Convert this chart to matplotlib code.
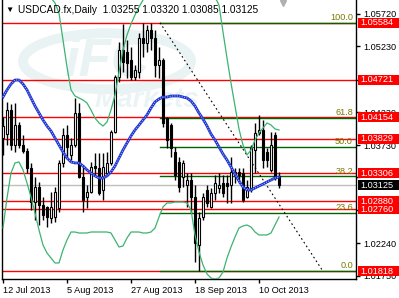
import numpy as np
import matplotlib
matplotlib.use("Agg")
import matplotlib.pyplot as plt
from matplotlib.patches import Rectangle, Ellipse
from matplotlib.transforms import blended_transform_factory

plt.rcParams['font.family'] = ['Liberation Sans', 'DejaVu Sans']

# ---------------- data ----------------
opens = [1.03837, 1.03898, 1.04262, 1.03732, 1.04035, 1.03732, 1.03640, 1.03383, 1.02868, 1.03095,
         1.02822, 1.02792, 1.02625, 1.02641, 1.02777, 1.03459, 1.03883, 1.03580, 1.03732, 1.04216,
         1.03247, 1.02944, 1.03019, 1.03413, 1.03383, 1.03050, 1.03307, 1.03459, 1.03928, 1.04761,
         1.05171, 1.05140, 1.05019, 1.04761, 1.04837, 1.05352, 1.05277, 1.05474, 1.05352, 1.04943,
         1.05019, 1.04140, 1.04035, 1.03625, 1.03474, 1.03247, 1.03125, 1.03201, 1.02944, 1.02216,
         1.02641, 1.03050, 1.02792, 1.03004, 1.03080, 1.03155, 1.03155, 1.03125, 1.03322, 1.03322,
         1.03307, 1.02944, 1.03080, 1.03656, 1.03913, 1.03959, 1.03625, 1.03353, 1.03883, 1.03255]
highs = [1.04155, 1.04383, 1.04352, 1.04368, 1.04080, 1.03883, 1.03686, 1.03459, 1.03247, 1.03171,
         1.02944, 1.02807, 1.03019, 1.03095, 1.03504, 1.03989, 1.04035, 1.03837, 1.04443, 1.04368,
         1.03428, 1.03125, 1.03474, 1.03610, 1.03610, 1.03610, 1.03625, 1.03959, 1.04792, 1.05292,
         1.05570, 1.05322, 1.05216, 1.04943, 1.05428, 1.05580, 1.05549, 1.05584, 1.05474, 1.05216,
         1.05049, 1.04155, 1.04065, 1.03701, 1.03550, 1.03504, 1.03307, 1.03307, 1.03125, 1.02716,
         1.03004, 1.03125, 1.03080, 1.03277, 1.03307, 1.03277, 1.03277, 1.03550, 1.03383, 1.03383,
         1.03383, 1.03201, 1.03732, 1.04065, 1.04186, 1.04110, 1.03686, 1.03928, 1.03928, 1.03320]
lows = [1.03580, 1.03732, 1.03656, 1.03625, 1.03686, 1.03610, 1.03307, 1.02747, 1.02595, 1.02519,
        1.02595, 1.02489, 1.02550, 1.02565, 1.02716, 1.03398, 1.03550, 1.03504, 1.03701, 1.03231,
        1.02716, 1.02777, 1.03004, 1.03277, 1.02974, 1.02898, 1.03277, 1.03428, 1.03913, 1.04686,
        1.04838, 1.04746, 1.04716, 1.04716, 1.04746, 1.05064, 1.05140, 1.05171, 1.04761, 1.04746,
        1.04004, 1.03686, 1.03550, 1.03201, 1.03019, 1.03095, 1.02792, 1.02701, 1.01959, 1.01818,
        1.02595, 1.02792, 1.02777, 1.02898, 1.03004, 1.02944, 1.02853, 1.02853, 1.03155, 1.03155,
        1.02868, 1.02928, 1.03019, 1.03307, 1.03883, 1.03383, 1.03398, 1.03322, 1.03201, 1.03085]
closes = [1.04019, 1.04262, 1.03732, 1.04035, 1.03732, 1.03640, 1.03383, 1.02868, 1.03095, 1.02822,
          1.02671, 1.02641, 1.02792, 1.03019, 1.03459, 1.03883, 1.03701, 1.03732, 1.04216, 1.03247,
          1.02898, 1.03019, 1.03398, 1.03383, 1.03004, 1.03398, 1.03459, 1.03928, 1.04761, 1.05171,
          1.04989, 1.04974, 1.04761, 1.04868, 1.05352, 1.05277, 1.05474, 1.05352, 1.04943, 1.05019,
          1.04065, 1.03807, 1.03686, 1.03277, 1.03095, 1.03459, 1.03201, 1.02944, 1.02247, 1.02625,
          1.02944, 1.02853, 1.03004, 1.03155, 1.03125, 1.03004, 1.03110, 1.03322, 1.03277, 1.03277,
          1.02898, 1.03095, 1.03686, 1.03913, 1.03959, 1.03504, 1.03504, 1.03732, 1.03231, 1.03125]

ma = [1.04458, 1.04565, 1.04655, 1.04716, 1.04716, 1.04655, 1.04565, 1.04443, 1.04322, 1.04216,
      1.04110, 1.04019, 1.03943, 1.03837, 1.03731, 1.03625, 1.03534, 1.03474, 1.03459, 1.03459,
      1.03413, 1.03353, 1.03307, 1.03262, 1.03231, 1.03231, 1.03262, 1.03322, 1.03413, 1.03534,
      1.03656, 1.03762, 1.03868, 1.03959, 1.04034, 1.04110, 1.04186, 1.04292, 1.04383, 1.04428,
      1.04458, 1.04458, 1.04474, 1.04474, 1.04474, 1.04458, 1.04443, 1.04398, 1.04322, 1.04216,
      1.04125, 1.04019, 1.03898, 1.03807, 1.03701, 1.03595, 1.03504, 1.03398, 1.03292, 1.03186,
      1.03095, 1.03050, 1.03050, 1.03080, 1.03110, 1.03140, 1.03171, 1.03201, 1.03231, 1.03246]
band_upper = [1.06655, 1.06383, 1.06080, 1.05973, 1.05958, 1.05973, 1.06004, 1.05973, 1.05973, 1.06004,
              1.06019, 1.05989, 1.05958, 1.05883, 1.05731, 1.05322, 1.04913, 1.04565, 1.04474, 1.04443,
              1.04413, 1.04368, 1.04262, 1.04140, 1.04065, 1.04019, 1.04080, 1.04262, 1.04489, 1.04837,
              1.05171, 1.05398, 1.05564, 1.05701, 1.05822, 1.05928, 1.06049, 1.06155, 1.06261, 1.06231,
              1.06140, 1.06080, 1.06080, 1.06080, 1.06080, 1.06049, 1.06049, 1.06080, 1.06307, 1.06383,
              1.06458, 1.06307, 1.06080, 1.05973, 1.05852, 1.05443, 1.05049, 1.04671, 1.04322, 1.03974,
              1.03731, 1.03580, 1.03656, 1.03807, 1.03913, 1.03989, 1.04065, 1.04034, 1.03974, 1.03959]
band_lower = [1.02474, 1.02928, 1.03307, 1.03459, 1.03474, 1.03353, 1.03156, 1.02943, 1.02701, 1.02444,
              1.02216, 1.02095, 1.02019, 1.01944, 1.01944, 1.02141, 1.02292, 1.02413, 1.02413, 1.02398,
              1.02398, 1.02398, 1.02413, 1.02413, 1.02413, 1.02413, 1.02413, 1.02398, 1.02292, 1.02186,
              1.02201, 1.02322, 1.02413, 1.02413, 1.02413, 1.02398, 1.02398, 1.02413, 1.02474, 1.02640,
              1.02792, 1.02853, 1.02853, 1.02868, 1.02868, 1.02868, 1.02853, 1.02747, 1.02368, 1.02110,
              1.01913, 1.01777, 1.01716, 1.01701, 1.01716, 1.01807, 1.02019, 1.02186, 1.02337, 1.02474,
              1.02504, 1.02519, 1.02489, 1.02413, 1.02368, 1.02368, 1.02368, 1.02398, 1.02519, 1.02640]

date_ticks = [0, 16, 32, 48, 64]
date_labels = ['12 Jul 2013', '5 Aug 2013', '27 Aug 2013', '18 Sep 2013', '10 Oct 2013']

price_ticks = [1.01750, 1.02240, 1.02740, 1.03240, 1.03730, 1.04230, 1.04720, 1.05230, 1.05720]
# labels that are fully covered by level boxes in the reference are left empty
price_labels = ['1.01750', '1.02240', '', '', '1.03730', '1.04230', '', '1.05230', '1.05720']

red_levels = [1.05584, 1.04721, 1.04154, 1.03829, 1.03306, 1.02880, 1.02760, 1.01818]
bid = 1.03125

fib_high = 1.05584
fib_low = 1.01818
fib_start = 39.25
fib_end = 80.0
fib_ratios = [100.0, 61.8, 50.0, 38.2, 23.6, 0.0]

header = "USDCAD.fx,Daily  1.03255 1.03320 1.03085 1.03125"

# ---------------- figure ----------------
W, H = 399, 298
fig = plt.figure(figsize=(W / 100, H / 100), dpi=100)
fig.patch.set_facecolor('white')
ax = fig.add_axes([2 / W, 19 / H, 354 / W, 279 / H])
ax.set_facecolor('white')
ymin, ymax = 1.01701, 1.05928
ax.set_ylim(ymin, ymax)
ax.set_xlim(-0.25, 88.25)

# watermark (faint logo)
ax.add_patch(Ellipse((26, 1.0500), 42, 0.0085, fill=False, ec='#e9f3f4', lw=7, zorder=0))
ax.text(26, 1.0500, 'iFC', fontsize=38, color='#e9f3f4', ha='center', va='center',
        fontweight='bold', fontstyle='italic', zorder=0)
ax.text(36, 1.0442, 'Markets', fontsize=20, color='#ebf4f5', ha='center', va='center',
        fontweight='bold', fontstyle='italic', zorder=0)

x = np.arange(len(opens))

# bid line
ax.axhline(bid, color='#c0c0c0', lw=1, zorder=1)

# red horizontal levels
for lv in red_levels:
    ax.axhline(lv, color='#ff0000', lw=1, zorder=1.5)

# fib lines
for r in fib_ratios:
    lv = fib_low + (fib_high - fib_low) * r / 100.0
    ax.plot([fib_start, 88.25], [lv, lv], color='#006400', lw=1, zorder=1.6)
    ax.text(87.5, lv + 0.00012, f"{r:.1f}", color='#7a7a00', fontsize=6.6,
            ha='right', va='bottom', zorder=5)
ax.plot([fib_start, fib_end], [fib_high, fib_low], color='black', lw=0.8,
        ls=(0, (1.5, 2.5)), zorder=1.7)

# candles
for i in range(len(opens)):
    o, h, l, c = opens[i], highs[i], lows[i], closes[i]
    ax.vlines(x[i], l, h, color='black', lw=1, zorder=2)
    bottom = min(o, c)
    height = max(abs(c - o), 0.00004)
    fc = 'white' if c >= o else 'black'
    ax.add_patch(Rectangle((x[i] - 0.32, bottom), 0.64, height, fc=fc, ec='black',
                           lw=0.8, zorder=3))

# indicators
ax.plot(x, band_upper, color='#3cb371', lw=0.9, zorder=4)
ax.plot(x, band_lower, color='#3cb371', lw=0.9, zorder=4)
ax.plot(x, ma, color='#1a2fd0', lw=2.0, zorder=4.5)
ax.plot(x, ma, color='#9fb4ee', lw=0.8, ls=(0, (1, 1.2)), zorder=4.6)

# axes styling
ax.spines['top'].set_visible(False)
for s in ['left', 'right', 'bottom']:
    ax.spines[s].set_color('black')
    ax.spines[s].set_linewidth(1)

ax.set_xticks(date_ticks)
ax.set_xticklabels(date_labels, fontsize=6.6, ha='left')
ax.tick_params(axis='x', direction='out', length=3, width=1, pad=2)

ax.yaxis.tick_right()
ax.set_yticks(price_ticks)
ax.set_yticklabels(price_labels, fontsize=6.6)
ax.tick_params(axis='y', direction='out', length=3, width=1, pad=2)

# right price labels
tr = blended_transform_factory(ax.transAxes, ax.transData)
px = (ymax - ymin) / 279.0
x0 = (358 - 2) / 354.0
wbox = (399 - 358) / 354.0
for lv in red_levels:
    ax.add_patch(Rectangle((x0, lv - 5 * px), wbox, 10 * px, transform=tr, fc='#ff0000',
                           ec='none', clip_on=False, zorder=6))
    ax.text(x0 + 2.5 / 354, lv, f"{lv:.5f}", transform=tr, color='white', fontsize=6.6,
            va='center', ha='left', clip_on=False, zorder=7)
ax.add_patch(Rectangle((x0, bid - 5 * px), wbox, 10 * px, transform=tr, fc='black',
                       ec='none', clip_on=False, zorder=6))
ax.text(x0 + 2.5 / 354, bid, f"{bid:.5f}", transform=tr, color='white', fontsize=6.6,
        va='center', ha='left', clip_on=False, zorder=7)

# header
fig.text(5 / W, 1 - 10 / H, '\u25BC', fontsize=6, color='black', va='center', ha='left')
fig.text(18 / W, 1 - 10 / H, header, fontsize=7.3, color='black', va='center', ha='left')
# shift marker
ax.plot([70.0], [ymax - 3 * px], marker='v', color='#b0b0b0', ms=5, clip_on=False, zorder=6)

fig.savefig('out.png', dpi=100)
